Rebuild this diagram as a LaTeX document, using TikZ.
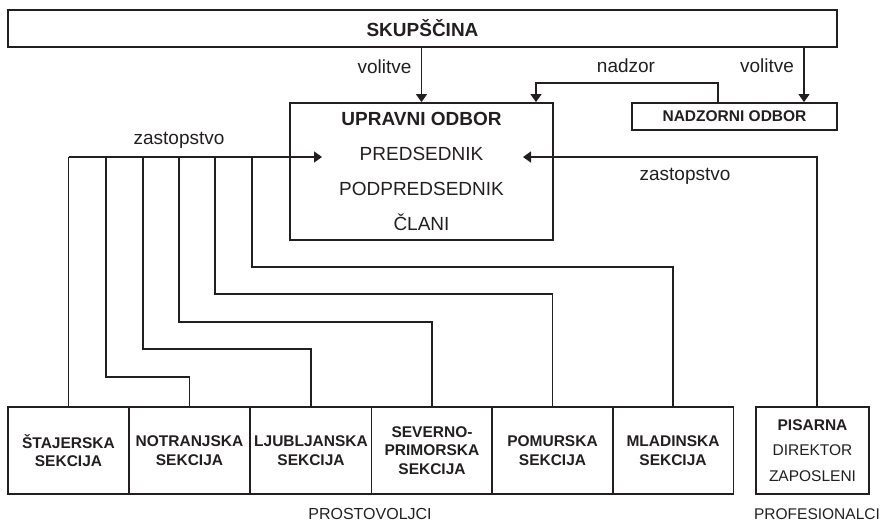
\documentclass[tikz,border=0pt]{standalone}
\usepackage{fontspec}
\setmainfont{Liberation Sans}
\usetikzlibrary{arrows.meta}
\definecolor{ink}{RGB}{35,31,32}
\begin{document}
\begin{tikzpicture}[x=1pt,y=-1pt,
  box/.style={draw=ink, line width=1.8pt, rectangle, inner sep=0pt, text=ink},
  conn/.style={draw=ink, line width=1.4pt},
  arr/.style={conn, -{Triangle[length=8pt,width=11pt]}},
  lbl/.style={text=ink, font=\fontsize{19}{22}\selectfont, inner sep=0pt},
  sec/.style={box, minimum width=121pt, minimum height=87pt, align=center, font=\bfseries\fontsize{15.5}{18.5}\selectfont}]
\useasboundingbox (0,0) rectangle (882,523);

% boxes
\node[box, minimum width=829pt, minimum height=37pt, font=\bfseries\fontsize{19}{22}\selectfont] (skup) at (422.5,28.5) {SKUPŠČINA};
\node[box, minimum width=263pt, minimum height=137pt, align=center, font=\fontsize{19}{35}\selectfont] (uo) at (421.5,171.5) {\textbf{UPRAVNI ODBOR}\\PREDSEDNIK\\PODPREDSEDNIK\\ČLANI};
\node[box, minimum width=205pt, minimum height=27pt, font=\bfseries\fontsize{15.5}{18}\selectfont] (nad) at (734.5,116.5) {NADZORNI ODBOR};

\node[sec] (staj) at (68.5,450.5) {ŠTAJERSKA\\SEKCIJA};
\node[sec] (notr) at (189.5,450.5) {NOTRANJSKA\\SEKCIJA};
\node[sec] (ljub) at (311,450.5) {LJUBLJANSKA\\SEKCIJA};
\node[sec] (sev) at (432,450.5) {SEVERNO-\\PRIMORSKA\\SEKCIJA};
\node[sec] (pom) at (552.5,450.5) {POMURSKA\\SEKCIJA};
\node[sec] (mlad) at (673,450.5) {MLADINSKA\\SEKCIJA};
\node[box, minimum width=113pt, minimum height=87pt, align=center, font=\fontsize{15.5}{25.5}\selectfont] (pis) at (812.5,450.5) {\textbf{PISARNA}\\DIREKTOR\\ZAPOSLENI};

% labels
\node[lbl] (vol1) at (384.5,67) {volitve};
\node[lbl] (vol2) at (767,66) {volitve};
\node[lbl] (nadz) at (626,66) {nadzor};
\node[lbl] (zas1) at (179,140) {zastopstvo};
\node[lbl] (zas2) at (685,176) {zastopstvo};
\node[lbl, font=\fontsize{16}{19}\selectfont] (prost) at (370,514) {PROSTOVOLJCI};
\node[lbl, font=\fontsize{15.5}{19}\selectfont] (prof) at (817,514) {PROFESIONALCI};

% coordinates
\coordinate (hL) at (68.5,157);
\coordinate (b2) at (106,157);
\coordinate (b3) at (143,157);
\coordinate (b4) at (179,157);
\coordinate (b5) at (215,157);
\coordinate (b6) at (252,157);
\coordinate (uoL) at (322,157);
\coordinate (uoR) at (523,157);
\coordinate (pv) at (817,157);
\coordinate (nz) at (718,83);
\coordinate (na) at (536,83);
\coordinate (v2) at (804,0);

% connectors
\draw[arr] (uo.north |- skup.south) -- (uo.north);
\draw[arr] (skup.south -| v2) -- (nad.north -| v2);
\draw[arr] (nad.north -| nz) -- (nz) -- (na) -- (uo.north -| na);

\draw[conn] (staj.north) -- (hL);
\draw[conn] (notr.north) -- ++(0,-29) -| (b2);
\draw[conn] (ljub.north) -- ++(0,-57) -| (b3);
\draw[conn] (sev.north) -- ++(0,-84) -| (b4);
\draw[conn] (pom.north) -- ++(0,-112) -| (b5);
\draw[conn] (mlad.north) -- ++(0,-139) -| (b6);
\draw[arr] (hL) -- (uoL);
\draw[arr] (pis.north -| pv) -- (pv) -- (uoR);
\end{tikzpicture}
\end{document}
